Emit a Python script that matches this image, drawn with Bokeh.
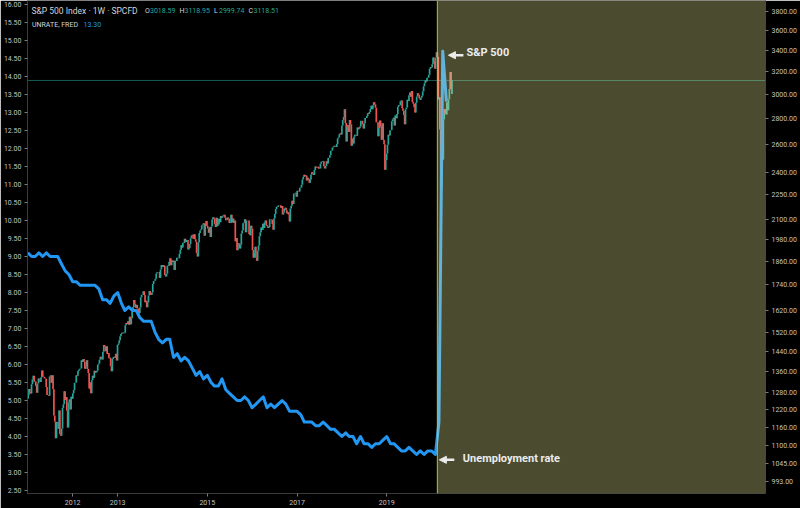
import numpy as np
import pandas as pd
from bokeh.plotting import figure
from bokeh.models import (Range1d, LogScale, LogAxis, FixedTicker, NumeralTickFormatter,
                          DatetimeTickFormatter, Span, BoxAnnotation, Label, Arrow, NormalHead)
from bokeh.embed import file_html
from bokeh.resources import INLINE

# ---------------- data ----------------
# S&P 500 weekly closes (week bars starting Mon 2011-01-03)
sp_2011 = [1271.5, 1293.2, 1283.4, 1276.3, 1310.9, 1329.2, 1343.0, 1319.9, 1321.2, 1304.3, 1279.2, 1313.8,
           1332.4, 1328.2, 1319.7, 1337.4, 1363.6, 1340.2, 1337.8, 1333.3, 1331.1, 1300.2, 1271.0, 1271.5,
           1268.5, 1339.7, 1344.0, 1316.1, 1345.0, 1292.3, 1199.4, 1178.8, 1123.5, 1176.8, 1174.0, 1154.2,
           1216.0, 1136.4, 1131.4, 1155.5, 1224.6, 1238.3, 1285.1, 1253.2, 1263.9, 1215.7, 1158.7, 1244.3,
           1255.2, 1219.7, 1265.3, 1257.6]
sp_2012 = [1277.8, 1289.1, 1315.4, 1316.3, 1344.9, 1342.6, 1361.2, 1365.7, 1370.0, 1370.9, 1404.2, 1397.1,
           1408.5, 1398.1, 1370.3, 1378.5, 1403.4, 1369.1, 1353.4, 1295.2, 1317.8, 1278.0, 1325.7, 1342.8,
           1335.0, 1362.2, 1354.7, 1356.8, 1362.7, 1386.0, 1391.0, 1405.9, 1418.2, 1411.1, 1406.6, 1437.9,
           1465.8, 1460.2, 1440.7, 1460.9, 1428.6, 1433.2, 1411.9, 1414.2, 1379.9, 1359.9, 1409.2, 1416.2,
           1418.1, 1413.6, 1430.2, 1402.4]
sp_2013 = [1466.5, 1472.1, 1486.0, 1503.0, 1513.2, 1517.9, 1519.8, 1515.6, 1518.2, 1551.2, 1560.7, 1556.9,
           1569.2, 1553.3, 1588.9, 1555.3, 1582.2, 1614.4, 1633.7, 1667.5, 1649.6, 1630.7, 1643.4, 1626.7,
           1592.4, 1606.3, 1631.9, 1680.2, 1692.1, 1691.7, 1709.7, 1691.4, 1655.8, 1663.5, 1633.0, 1655.2,
           1688.0, 1709.9, 1691.8, 1690.5, 1703.2, 1744.5, 1759.8, 1761.6, 1770.6, 1798.2, 1804.8, 1805.8,
           1805.1, 1775.3, 1818.3, 1841.4]
sp_2014 = [1831.4, 1842.4, 1838.7, 1790.3, 1782.6, 1797.0, 1838.6, 1836.3, 1859.5, 1878.0, 1841.1, 1866.5,
           1857.6, 1865.1, 1815.7, 1864.9, 1863.4, 1881.1, 1878.5, 1877.9, 1900.5, 1923.6, 1949.4, 1936.2,
           1962.9, 1961.0, 1985.4, 1967.6, 1978.2, 1978.3, 1925.2, 1931.6, 1955.1, 1988.4, 2003.4, 2007.7,
           1985.5, 2010.4, 1982.9, 1967.9, 1906.1, 1886.8, 1964.6, 2018.1, 2031.9, 2039.8, 2063.5, 2067.6,
           2075.4, 2002.3, 2070.7, 2088.8]
sp_2015 = [2058.2, 2044.8, 2019.4, 2051.8, 1995.0, 2055.5, 2097.0, 2110.3, 2104.5, 2071.3, 2053.4, 2108.1,
           2061.0, 2067.0, 2102.1, 2081.2, 2117.7, 2108.3, 2116.1, 2122.7, 2126.1, 2107.4, 2092.8, 2094.1,
           2110.0, 2101.5, 2076.8, 2076.6, 2126.6, 2079.7, 2103.8, 2077.6, 2091.5, 1970.9, 1988.9, 1921.2,
           1961.1, 1958.0, 1931.3, 1951.4, 2014.9, 2033.1, 2075.2, 2079.4, 2099.2, 2023.0, 2089.2, 2090.1,
           2091.7, 2012.4, 2005.6, 2061.0, 2043.9]
sp_2016 = [1922.0, 1880.3, 1906.9, 1940.2, 1880.1, 1864.8, 1917.8, 1948.1, 2000.0, 2022.2, 2049.6, 2035.9,
           2072.8, 2047.6, 2080.7, 2091.6, 2065.3, 2057.1, 2046.6, 2052.3, 2099.1, 2099.1, 2096.1, 2071.2,
           2037.4, 2102.9, 2129.9, 2161.7, 2175.0, 2173.6, 2182.9, 2184.1, 2183.9, 2169.0, 2180.0, 2127.8,
           2139.2, 2164.7, 2168.3, 2153.7, 2133.0, 2141.2, 2126.4, 2085.2, 2164.5, 2181.9, 2213.4, 2192.0,
           2259.5, 2258.1, 2263.8, 2238.8]
sp_2017 = [2277.0, 2274.6, 2271.3, 2294.7, 2297.4, 2316.1, 2351.2, 2367.3, 2383.1, 2372.6, 2378.3, 2344.0,
           2362.7, 2355.5, 2329.0, 2348.7, 2384.2, 2399.3, 2390.9, 2381.7, 2415.8, 2439.1, 2431.8, 2433.2,
           2438.3, 2423.4, 2425.2, 2459.3, 2472.5, 2472.1, 2476.8, 2441.3, 2425.6, 2443.1, 2476.6, 2461.4,
           2500.2, 2502.2, 2519.4, 2549.3, 2553.2, 2575.2, 2581.1, 2587.8, 2582.3, 2578.9, 2602.4, 2642.2,
           2651.5, 2675.8, 2683.3, 2673.6]
sp_2018 = [2743.2, 2786.2, 2810.3, 2872.9, 2762.1, 2619.6, 2732.2, 2747.3, 2691.3, 2786.6, 2752.0, 2588.3,
           2640.9, 2604.5, 2656.3, 2670.1, 2669.9, 2663.4, 2727.7, 2713.0, 2721.3, 2734.6, 2779.0, 2779.7,
           2754.9, 2718.4, 2759.8, 2801.3, 2801.8, 2818.8, 2840.4, 2833.3, 2850.1, 2874.7, 2901.5, 2871.7,
           2905.0, 2929.7, 2914.0, 2885.6, 2767.1, 2767.8, 2658.7, 2723.1, 2781.0, 2736.3, 2632.6, 2760.2,
           2633.1, 2600.0, 2416.6, 2485.7]
sp_2019 = [2531.9, 2596.3, 2670.7, 2664.8, 2706.5, 2707.9, 2775.6, 2792.7, 2803.7, 2743.1, 2822.5, 2800.7,
           2834.4, 2892.7, 2907.4, 2905.0, 2939.9, 2945.6, 2881.4, 2859.5, 2826.1, 2752.1, 2873.3, 2887.0,
           2950.5, 2941.8, 2990.4, 3013.8, 2976.6, 3025.9, 2932.1, 2918.7, 2888.7, 2847.1, 2926.5, 2978.7,
           3007.4, 2992.1, 2961.8, 2952.0, 2970.3, 2986.2, 3022.6, 3066.9, 3093.1, 3120.5, 3110.3, 3141.0,
           3145.9, 3168.8, 3221.2, 3240.0]
sp_2020 = [3234.9, 3265.4, 3329.6, 3295.5, 3225.5, 3327.7, 3380.2, 3337.8, 2954.2, 2972.4, 2711.0, 2304.9,
           2541.5, 2488.7, 2789.8, 2875.0, 2836.7, 2830.7, 2929.8, 2863.7, 2955.5, 3044.3, 3193.9, 3041.3,
           3118.51]
first_open = 1257.6
# last bar, as printed in the legend
last_open, last_high, last_low, last_close = 3018.59, 3118.95, 2999.74, 3118.51

# US unemployment rate (FRED UNRATE), monthly from Jan 2011
unrate = [9.1, 9.0, 9.0, 9.1, 9.0, 9.1, 9.0, 9.0, 9.0, 8.8, 8.6, 8.5,
          8.3, 8.3, 8.2, 8.2, 8.2, 8.2, 8.2, 8.1, 7.8, 7.8, 7.7, 7.9,
          8.0, 7.7, 7.5, 7.6, 7.5, 7.5, 7.3, 7.2, 7.2, 7.2, 6.9, 6.7,
          6.6, 6.7, 6.7, 6.2, 6.3, 6.1, 6.2, 6.1, 5.9, 5.7, 5.8, 5.6,
          5.7, 5.5, 5.4, 5.4, 5.6, 5.3, 5.2, 5.1, 5.0, 5.0, 5.1, 5.0,
          4.8, 4.9, 5.0, 5.1, 4.8, 4.9, 4.8, 4.9, 5.0, 4.9, 4.7, 4.7,
          4.7, 4.6, 4.4, 4.4, 4.4, 4.3, 4.3, 4.4, 4.3, 4.2, 4.2, 4.1,
          4.0, 4.1, 4.0, 4.0, 3.8, 4.0, 3.8, 3.8, 3.7, 3.8, 3.8, 3.9,
          4.0, 3.8, 3.8, 3.7, 3.6, 3.6, 3.7, 3.6, 3.5, 3.6, 3.5, 3.6,
          3.6, 3.5, 4.4, 14.7, 13.3]

peak_week = "2020-02-17"          # marker line / shaded region start
year_ticks = ["2012-01-01", "2013-01-01", "2015-01-01", "2017-01-01", "2019-01-01"]
left_ticks = [2.5, 3.0, 3.5, 4.0, 4.5, 5.0, 5.5, 6.0, 6.5, 7.0, 7.5, 8.0, 8.5, 9.0, 9.5,
              10.0, 10.5, 11.0, 11.5, 12.0, 12.5, 13.0, 13.5, 14.0, 14.5, 15.0, 15.5, 16.0]
right_ticks = [993, 1045, 1100, 1160, 1220, 1280, 1360, 1440, 1520, 1620, 1740, 1860, 1980,
               2100, 2250, 2400, 2600, 2800, 3000, 3200, 3400, 3600, 3800]

# ---------------- derived ----------------
closes = sp_2011 + sp_2012 + sp_2013 + sp_2014 + sp_2015 + sp_2016 + sp_2017 + sp_2018 + sp_2019 + sp_2020
weeks = pd.date_range("2011-01-03", periods=len(closes), freq="W-MON")
opens = [first_open] + closes[:-1]
opens[-1] = last_open
highs = [max(o, c) for o, c in zip(opens, closes)]
lows = [min(o, c) for o, c in zip(opens, closes)]
highs[-1], lows[-1] = last_high, last_low
colors = ["#26a69a" if c >= o else "#ef5350" for o, c in zip(opens, closes)]
months = pd.date_range("2011-01-01", periods=len(unrate), freq="MS")


def ms(t):
    return pd.Timestamp(t).value / 1e6


FRAME_W, FRAME_H = 740, 493
x0, x1 = ms("2010-12-29"), ms("2027-06-12")
ms_per_px = (x1 - x0) / FRAME_W
uy0, uy1 = 2.417, 16.111
u_per_px = (uy1 - uy0) / FRAME_H
py0, py1 = 959.8, 3917.6
lnp_per_px = np.log(py1 / py0) / FRAME_H

p = figure(width=800, height=508, x_axis_type="datetime",
           x_range=Range1d(x0, x1), y_range=Range1d(uy0, uy1),
           output_backend="svg", toolbar_location=None,
           background_fill_color="#000000", border_fill_color="#000000",
           outline_line_color=None,
           min_border_left=25, min_border_right=35, min_border_top=0, min_border_bottom=15)
p.grid.visible = False
p.extra_y_ranges = {"price": Range1d(py0, py1)}
p.extra_y_scales = {"price": LogScale()}

FONT = "Roboto"
AX_COL = "#3a3a3a"
LBL_COL = "#c4c4c4"

# left axis
ya = p.yaxis[0]
ya.ticker = FixedTicker(ticks=left_ticks)
ya.formatter = NumeralTickFormatter(format="0.00")
# right axis
ra = LogAxis(y_range_name="price", ticker=FixedTicker(ticks=right_ticks),
             formatter=NumeralTickFormatter(format="0.00"))
p.add_layout(ra, "right")
# bottom axis
xa = p.xaxis[0]
xa.ticker = FixedTicker(ticks=[ms(t) for t in year_ticks])
xa.formatter = DatetimeTickFormatter(years="%Y", months="%Y", days="%Y", hours="%Y",
                                     hourmin="%Y", minutes="%Y", minsec="%Y", seconds="%Y",
                                     milliseconds="%Y", microseconds="%Y")
for ax in (ya, ra, xa):
    ax.axis_line_color = AX_COL
    ax.major_tick_line_color = "#7a7a7a"
    ax.major_tick_out = 3
    ax.major_tick_in = 0
    ax.minor_tick_line_color = None
    ax.major_label_text_color = LBL_COL
    ax.major_label_text_font = FONT
    ax.major_label_text_font_size = "7px"
    ax.major_label_standoff = 3

# price line of last close
p.add_layout(Span(location=closes[-1], dimension="width", y_range_name="price",
                  line_color="#26a69a", line_alpha=0.55, line_width=1, level="underlay"))

# candles
p.segment(x0=weeks, y0=lows, x1=weeks, y1=highs, color=colors, line_width=1.7,
          y_range_name="price")

# unemployment rate
p.line(months, unrate, line_width=3, color="#2196f3", line_join="round")

# shaded region after the peak and marker line
pk = ms(peak_week)
p.add_layout(BoxAnnotation(left=pk, fill_color="#f7f7a0", fill_alpha=0.3,
                           line_color=None, level="overlay"))
p.add_layout(Span(location=pk, dimension="height", line_color="#c2c22a",
                  line_width=1, level="overlay"))

# annotations
ip = int(np.argmax(closes))
sp_x, sp_y = ms(weeks[ip]), closes[ip]
p.add_layout(Label(x=sp_x, y=sp_y, y_range_name="price", x_offset=30, y_offset=0,
                   text="S&P 500", text_font=FONT, text_font_style="bold",
                   text_font_size="11px", text_color="#ececec", text_baseline="middle",
                   level="overlay"))
p.add_layout(Arrow(end=NormalHead(size=7, fill_color="#ececec", line_color="#ececec"),
                   x_start=sp_x + 27 * ms_per_px, x_end=sp_x + 12 * ms_per_px,
                   y_start=sp_y * np.exp(-3 * lnp_per_px), y_end=sp_y * np.exp(-3 * lnp_per_px),
                   y_range_name="price", line_color="#ececec", line_width=2.5, level="overlay"))

iu = 49 + 60  # Feb 2020
u_x, u_y = ms(months[iu]), unrate[iu]
p.add_layout(Label(x=u_x, y=u_y, x_offset=27.5, y_offset=-3.7,
                   text="Unemployment rate", text_font=FONT, text_font_style="bold",
                   text_font_size="11px", text_color="#ececec", text_baseline="middle",
                   level="overlay"))
p.add_layout(Arrow(end=NormalHead(size=7, fill_color="#ececec", line_color="#ececec"),
                   x_start=u_x + 19 * ms_per_px, x_end=u_x + 4 * ms_per_px,
                   y_start=u_y - 5.3 * u_per_px, y_end=u_y - 5.3 * u_per_px,
                   line_color="#ececec", line_width=2.5, level="overlay"))

# legend texts (top-left)
def tlabel(text, dx, dy, size, color):
    p.add_layout(Label(x=x0, y=uy1, x_offset=dx, y_offset=-dy, text=text, text_font=FONT,
                       text_font_size=size, text_color=color, text_baseline="middle",
                       level="overlay"))


tlabel("S&P 500 Index \u00b7 1W \u00b7 SPCFD", 4, 10, "8.5px", "#d1d4dc")
for i, (k, v) in enumerate(zip("OHLC", (last_open, last_high, last_low, last_close))):
    tlabel(k, 117.5 + i * 34.5, 10, "7px", "#d1d4dc")
    tlabel(f"{v:.2f}", 122.5 + i * 34.5, 10, "7px", "#26a69a")
tlabel("UNRATE, FRED", 4.5, 24, "7px", "#d1d4dc")
tlabel(f"{unrate[-1]:.2f}", 56, 24, "7px", "#2196f3")

open("out.html", "w").write(file_html(p, INLINE))
